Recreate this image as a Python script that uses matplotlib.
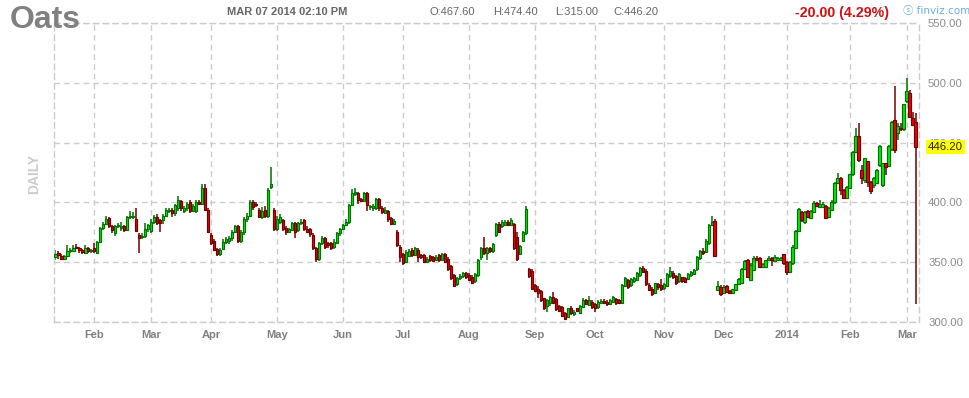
import numpy as np
import pandas as pd
import matplotlib
matplotlib.use("Agg")
import matplotlib.pyplot as plt

plt.rcParams['font.family'] = ['Liberation Sans', 'DejaVu Sans']

# ---------------- data ----------------
start_date = "2013-01-14"
end_date = "2014-03-07"
holidays = ["2013-01-21", "2013-02-18", "2013-03-29", "2013-05-27", "2013-07-04",
            "2013-09-02", "2013-11-28", "2013-12-25", "2014-01-01", "2014-01-20",
            "2014-02-17"]
month_labels = ["Feb", "Mar", "Apr", "May", "Jun", "Jul", "Aug", "Sep", "Oct",
                "Nov", "Dec", "2014", "Feb", "Mar"]
price_ticks = [300, 350, 400, 450, 500, 550]

opens = [354, 358, 355.5, 353, 355, 359, 359.5, 363, 361.5, 360, 358, 362, 359, 362, 358, 367, 378.5, 382, 387, 380,
         374, 380, 379, 380, 377, 387.5, 388, 386, 373, 371, 372, 378, 376, 384, 388, 385, 385, 389, 393, 394,
         391.5, 395, 401, 393, 395, 400, 393, 393, 400, 399, 412, 394, 373, 368, 361, 357, 361, 367, 368, 370,
         375, 380, 368, 375, 386, 389, 400, 399, 394, 388, 394, 389, 413.2, 393.7, 378, 384, 385, 379, 375.5, 377,
         382.5, 377, 383, 385, 378, 378, 372.7, 361.6, 353, 366, 370, 366, 366, 363, 366, 374, 378, 381, 383.5, 398,
         407, 408, 402.5, 401.5, 407.6, 396, 395, 395, 402.5, 395, 391, 392.8, 386.7, 382, 375.5, 362.4, 356.9, 350.5, 355, 360,
         356, 360, 356, 356, 350.5, 355, 354, 352, 356, 352, 357, 352.4, 346.8, 339.3, 332, 336.5, 338.5, 340.7, 339, 338,
         334, 339, 354, 361.6, 357.4, 361.6, 359, 372.7, 382, 380, 381, 384, 381, 382, 370.8, 357, 368, 374.7, 344, 342.6,
         331, 328, 326, 319.8, 313.4, 315.6, 321, 319, 313.4, 312.3, 307.2, 304, 311.4, 306.6, 311.4, 307.8, 312.8, 318.4, 314.2, 317,
         315, 312.3, 315.6, 317.8, 317, 315, 317, 319, 318.4, 316, 330, 335, 331, 334, 335, 339.3, 344.9, 342.9, 331, 328,
         324.5, 331.8, 331, 328.1, 330, 338.5, 341.2, 338.5, 334.5, 337.3, 336.5, 335.7, 339.3, 340, 344, 353.2, 359.4, 358.8, 365.8, 381,
         384.4, 326.7, 329.5, 323.9, 330.3, 326, 324, 326.7, 331.9, 332.3, 344.7, 351.8, 335, 343.5, 353.8, 353.2, 346.3, 346.3, 351.8, 353.2,
         351, 351.8, 351.8, 356.5, 350.4, 342, 349, 362, 376, 392.2, 383.3, 392.8, 387.2, 392.2, 399.2, 396.4, 396.4, 397.2, 388, 393.6,
         400, 416, 420.1, 410.3, 403.9, 412.3, 423.5, 442.4, 455.8, 427, 418.7, 434.6, 417.3, 414.5, 415.9, 431.3, 414.5, 432.6, 430.7, 444.6,
         468.9, 457.7, 462.5, 461.4, 484.8, 491.2, 470.3, 467.6]
highs = [360, 359.5, 357, 356, 364, 362, 364, 365, 363, 361, 364, 363, 361, 366, 368, 379.5, 384, 389, 388, 381,
         381, 383, 384, 381, 389, 393, 392, 395, 374, 374, 383, 382, 386, 389.5, 390, 386, 390, 395, 395, 395,
         399, 405, 402, 397, 400.5, 402, 399, 402, 402, 415, 415, 395, 374, 369, 362, 362, 369, 371, 372, 377,
         381, 381, 377, 388, 391, 402, 402, 400, 395, 396, 397, 412, 430, 395, 389, 390, 386, 380, 379, 384,
         384, 384, 386, 386, 380, 379, 374, 363, 367, 372, 371, 367, 367, 369, 375, 379, 382, 386, 399, 411,
         412, 409, 404, 409, 409, 398, 399, 404, 404, 397, 396, 394, 388, 386, 377, 364, 358, 360, 361, 362,
         363, 362, 357, 357, 354, 356, 355, 356, 357, 358, 358, 354, 348, 340, 338, 340, 342, 342, 341, 339,
         341, 353, 363, 371, 363, 363, 366, 383, 384, 385, 385, 385, 387, 383, 375, 364, 376, 397, 345, 344,
         332, 330, 327, 320, 319, 322, 325, 320, 314, 313, 308, 312, 313, 310, 312, 314, 320, 319, 322, 318,
         316, 318, 319, 319, 318, 319, 322, 320, 319, 332, 338, 336, 337, 338, 342, 346, 347, 344, 333, 329,
         333, 333, 336, 333, 341, 346, 343, 339, 341, 338, 338, 341, 343, 344, 355, 360, 362, 369, 382, 389,
         386, 334, 331, 331, 331, 327, 328, 332, 337, 345, 352, 353, 349, 355, 355, 354, 349, 352, 355, 354,
         356, 354.5, 354.5, 357, 351, 351, 364, 377, 395, 393, 393, 394, 394, 401, 400, 402, 400, 398, 396, 402,
         417, 425, 421, 411, 414, 424, 443, 462, 466, 431, 437, 435, 418, 421, 428, 448, 433, 433, 448, 468,
         497, 466, 466, 482, 504, 494, 476, 474.4]
lows = [351.5, 353, 352, 352, 354, 358, 358.5, 361, 358, 356.5, 357, 358, 358, 357.5, 357, 366, 377, 381, 379, 374.5,
        372, 378.5, 376, 375, 376, 386, 386.5, 375, 358, 369, 370, 375, 374, 382, 381, 375, 382, 388, 391, 388,
        389, 393, 393, 391, 393, 391, 392, 391, 398, 398, 393, 374, 364, 359, 355, 355.5, 360, 365, 365, 368,
        374, 366, 366, 373, 384, 388, 394, 396, 387, 386, 387, 387, 411, 376, 376, 382, 376, 373, 374, 376,
        370, 375, 381, 376, 374, 371, 360, 350, 351, 364, 361, 362, 360, 361, 365, 372, 377, 380, 382, 397,
        405, 399, 400, 400, 393, 394, 393, 394, 393, 390, 390, 384, 381, 381, 363, 350, 348, 349, 354, 354,
        355, 350, 353, 349, 349, 350, 350, 351, 350, 351, 349, 343, 335, 329, 330, 335, 337, 336, 334, 332,
        333, 338, 352, 356, 352, 358, 358, 371, 374, 379, 380, 380, 380, 360, 351, 356, 367, 373, 337, 327,
        325, 320, 317, 310, 308, 313, 315, 309, 308, 304, 302, 303, 306, 305, 308, 307, 312, 314, 313, 311,
        308, 311, 315, 315, 313, 314, 316, 314, 315, 315, 329, 328, 329, 333, 334, 338, 341, 330, 326, 322,
        323, 327, 326, 327, 329, 337, 336, 331, 333, 333, 333, 335, 338, 339, 343, 352, 356, 358, 364, 380,
        354, 326, 322, 323, 324, 323, 323, 326, 331, 332, 344, 337, 334, 343, 351, 345, 345, 345, 351, 347,
        350, 351, 351, 348, 339, 341, 348, 361, 375, 384, 382, 387, 386, 391, 396, 396, 395, 386, 387, 393,
        399, 415, 406, 403, 403, 411, 422, 441, 434, 415, 416, 413, 407, 412, 415, 430, 413, 423, 430, 443,
        441, 452, 460, 460, 483, 471, 464, 315]
closes = [357, 356, 353, 355, 359, 360.5, 361.5, 361.5, 360, 358.5, 362, 359, 360, 359.5, 367, 378.5, 382, 386, 380, 377,
          380, 381, 380, 377, 387.5, 389, 388.5, 376, 370.5, 372, 378, 381, 384, 388, 383, 383, 389, 393.6, 394, 391.5,
          397.8, 401.7, 395, 395.5, 399, 393, 397, 400, 399, 412, 394, 375, 366, 360, 357, 360, 367, 369, 370, 375,
          380, 368, 375, 386, 389, 400, 396, 398, 388, 393, 389, 410, 415.4, 377.5, 386, 388, 377.5, 375.5, 377.5, 382.5,
          375.5, 382.5, 384, 377.5, 375.5, 373.5, 361.6, 353, 365.8, 370, 363, 364, 362, 367, 374, 378, 381, 384, 398, 407.6,
          409, 402, 401.5, 407.6, 398, 396.5, 397, 402.5, 395, 392, 394, 385.8, 382, 384.7, 364.4, 354, 349.6, 358.8, 359.6, 356,
          361.6, 354.6, 354, 350.5, 352.7, 351.9, 351.3, 354, 351.9, 357, 350.5, 344, 336.5, 330.1, 336.5, 338.5, 340.7, 337.4, 335, 333,
          340, 351.8, 361.6, 357.4, 361.6, 359.6, 365, 382, 375.5, 383.9, 384, 381, 385, 361.6, 352.4, 363.5, 375.5, 394.2, 338.5, 328,
          326, 324, 318.4, 311.4, 318.4, 321.2, 316, 310.6, 309.5, 305, 302.2, 311.4, 307.2, 308.6, 309.5, 313.4, 318.4, 315, 318.4, 312.8,
          311.4, 317, 317.8, 316, 315, 318.4, 320.6, 315.6, 316, 331, 336.5, 329.5, 335.6, 336.7, 341.3, 344.9, 342, 331.8, 326.8, 323.4,
          332.3, 329, 327.3, 331.8, 340.1, 342.9, 337.3, 332.9, 340.1, 334.5, 333.7, 340.1, 342.1, 343.5, 354.6, 359.4, 357.4, 368, 381, 383.9,
          355.4, 330.3, 323.1, 329.5, 324.8, 324, 327.5, 331.5, 335.9, 344.3, 351, 337.9, 347.6, 353.8, 351.8, 346.3, 348.2, 351.8, 353.8, 351.8,
          354.6, 353.8, 353.8, 349, 342, 349.9, 363, 376, 394.5, 385.3, 392.2, 388, 392.8, 399.2, 397.2, 398.4, 398.4, 387.2, 395, 400.6,
          416, 420.1, 410.3, 403.9, 413.1, 423.5, 442.4, 455.8, 435.4, 420.1, 436.8, 416.8, 409.5, 420.6, 427.1, 447.4, 432.6, 429.9, 447.4, 467.5,
          443.8, 464.2, 461.4, 482, 493.1, 471.7, 464.7, 446.2]

title = "Oats"
stamp = "MAR 07 2014 02:10 PM"
change_text = "-20.00 (4.29%)"

# ---------------- prep ----------------
dates = pd.bdate_range(start_date, end_date)
dates = dates[~dates.isin(pd.to_datetime(holidays))]
o = np.array(opens, float); h = np.array(highs, float)
l = np.array(lows, float); c = np.array(closes, float)
n = len(c)
x = np.arange(n)
up = c >= o

month_id = dates.year * 12 + dates.month
tick_pos = [i for i in range(1, n) if month_id[i] != month_id[i - 1]]

# ---------------- figure ----------------
W, H = 970, 398
fig = plt.figure(figsize=(W / 100, H / 100), dpi=100)
ax = fig.add_axes([54 / W, 1 - 322 / H, (919 - 54) / W, (322 - 23) / H])

grid_col = "#cccccc"
dash = (0, (4, 3))
for s in ax.spines.values():
    s.set_color(grid_col)
    s.set_linestyle(dash)
    s.set_linewidth(1)

ax.set_xlim(-0.4, n + 0.1)
ax.set_ylim(price_ticks[0], price_ticks[-1])

ax.set_xticks(tick_pos)
ax.set_xticklabels(month_labels, fontsize=8, fontweight="bold", color="#808080")
ax.set_yticks(price_ticks)
ax.yaxis.tick_right()
ax.set_yticklabels([f"{v:.2f}" for v in price_ticks], fontsize=8.2, color="#8c8c8c")
ax.tick_params(axis="both", length=0)
ax.tick_params(axis="y", pad=6.5)
ax.tick_params(axis="x", pad=6)
ax.grid(True, color=grid_col, linestyle=dash, linewidth=1)
ax.set_axisbelow(True)

g_fill, g_edge = "#00ee00", "#007000"
r_fill, r_edge = "#ee0000", "#700000"

ax.vlines(x[up], l[up], h[up], color=g_edge, linewidth=1.1, zorder=2)
ax.vlines(x[~up], l[~up], h[~up], color=r_edge, linewidth=1.1, zorder=2)

body_lo = np.minimum(o, c)
body_h = np.maximum(np.abs(c - o), 0.8)
ax.bar(x[up], body_h[up], bottom=body_lo[up], width=0.88, color=g_fill,
       edgecolor=g_edge, linewidth=0.85, zorder=3)
ax.bar(x[~up], body_h[~up], bottom=body_lo[~up], width=0.88, color=r_fill,
       edgecolor=r_edge, linewidth=0.85, zorder=3)

# last price tag
ax.annotate(f"{c[-1]:.2f}", xy=(1.0, c[-1]), xycoords=("axes fraction", "data"),
            xytext=(6.5, 0), textcoords="offset points", va="center", ha="left",
            fontsize=8.2, color="#222222",
            bbox=dict(boxstyle="square,pad=0.15", fc="#ffff00", ec="none"), zorder=5)

# header texts
fig.text(10 / W, 1 - 20 / H, title, fontsize=23, fontweight="bold", color="#808080",
         va="center", ha="left")
fig.text(227 / W, 1 - 12 / H, stamp, fontsize=8, fontweight="bold", color="#666666",
         va="center", ha="left")
hdr = [("O", o[-1]), ("H", h[-1]), ("L", l[-1]), ("C", c[-1])]
hdr_x = [430, 493, 555, 613]
for (k, v), xp in zip(hdr, hdr_x):
    fig.text(xp / W, 1 - 12 / H, f"{k}:{v:.2f}", fontsize=8, color="#666666",
             va="center", ha="left")
fig.text(795 / W, 1 - 13 / H, change_text, fontsize=10.2, fontweight="bold",
         color="#cc1111", va="center", ha="left")
fig.text(903 / W, 1 - 11 / H, "\u24e2 finviz.com", fontsize=7.5, color="#6aaee6",
         va="center", ha="left", family=["DejaVu Sans", "Noto Sans CJK SC"])
fig.text(34 / W, 1 - 174 / H, "DAILY", fontsize=10, fontweight="bold", color="#cccccc",
         rotation=90, va="center", ha="center")

fig.savefig("out.png", dpi=100)
